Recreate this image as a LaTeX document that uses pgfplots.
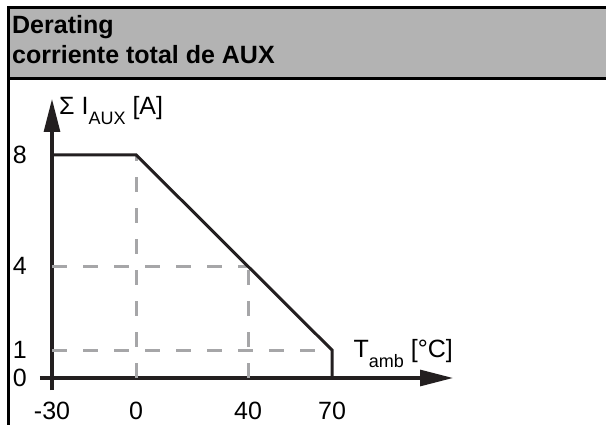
\documentclass[border=0pt]{standalone}
\usepackage{fontspec}
\setmainfont{Liberation Sans}
\usepackage{pgfplots}
\pgfplotsset{compat=1.18}
\usetikzlibrary{arrows.meta}

\definecolor{ink}{HTML}{231F20}
\definecolor{hdr}{HTML}{B3B3B3}
\definecolor{grd}{HTML}{A6A6A8}

\newcommand{\lab}{\fontsize{25bp}{29bp}\selectfont}
\newcommand{\sub}[1]{\raisebox{-10bp}{\fontsize{18bp}{18bp}\selectfont #1}}

\begin{document}
\begin{tikzpicture}
    \useasboundingbox (0bp,0bp) rectangle (606bp,425bp);
    \clip (0bp,0bp) rectangle (606bp,425bp);
    % header box and frame
    \fill[hdr] (8bp,417bp) rectangle (620bp,346bp);
    \draw[black, line width=3bp] (8bp,-20bp) -- (8bp,417bp) -- (620bp,417bp);
    \draw[black, line width=3bp] (8bp,346bp) -- (620bp,346bp);
    \node[anchor=base west, inner sep=0pt, font=\lab\bfseries] at (12bp,391bp) {Derating};
    \node[anchor=base west, inner sep=0pt, font=\lab\bfseries] at (12bp,361bp) {corriente total de AUX};

    \begin{axis}[
        at={(52bp,47bp)}, anchor=south west,
        scale only axis,
        width=401bp, height=279bp,
        xmin=-30, xmax=113.2,
        ymin=0, ymax=10,
        axis lines*=left,
        axis line style={ink, line width=3bp, shorten <=-12bp,
                         -{Triangle[length=33bp,width=16bp]}},
        xtick={-30,0,40,70}, xticklabels={-30,0,40,70},
        ytick={0,1,4,8}, yticklabels={0,1,4,8},
        major tick length=0pt,
        tick label style={font=\lab, text=black, inner sep=0pt},
        xticklabel style={anchor=north, yshift=-24bp},
        yticklabel style={anchor=east, xshift=-25bp},
        xlabel={T\sub{amb} [°C]},
        ylabel={Σ I\sub{AUX} [A]},
        every axis x label/.style={at={(rel axis cs:1,0)}, anchor=base east,
                                   yshift=21bp, inner sep=0pt, font=\lab},
        every axis y label/.style={at={(rel axis cs:0,1)}, anchor=base west,
                                   xshift=7bp, yshift=-16bp, inner sep=0pt, font=\lab},
        clip=false,
    ]
        % guide lines
        \addplot[grd, line width=3bp, dash pattern=on 15bp off 16bp] coordinates {(0,0) (0,8)};
        \addplot[grd, line width=3bp, dash pattern=on 15bp off 16bp] coordinates {(40,0) (40,4)};
        \addplot[grd, line width=3bp, dash pattern=on 15bp off 16bp] coordinates {(-30,4) (40,4)};
        \addplot[grd, line width=3bp, dash pattern=on 15bp off 16bp] coordinates {(-30,1) (70,1)};
        % derating curve
        \addplot[ink, line width=3bp, line join=miter]
            coordinates {(-30,8) (0,8) (70,1) (70,0)};
    \end{axis}
\end{tikzpicture}
\end{document}
